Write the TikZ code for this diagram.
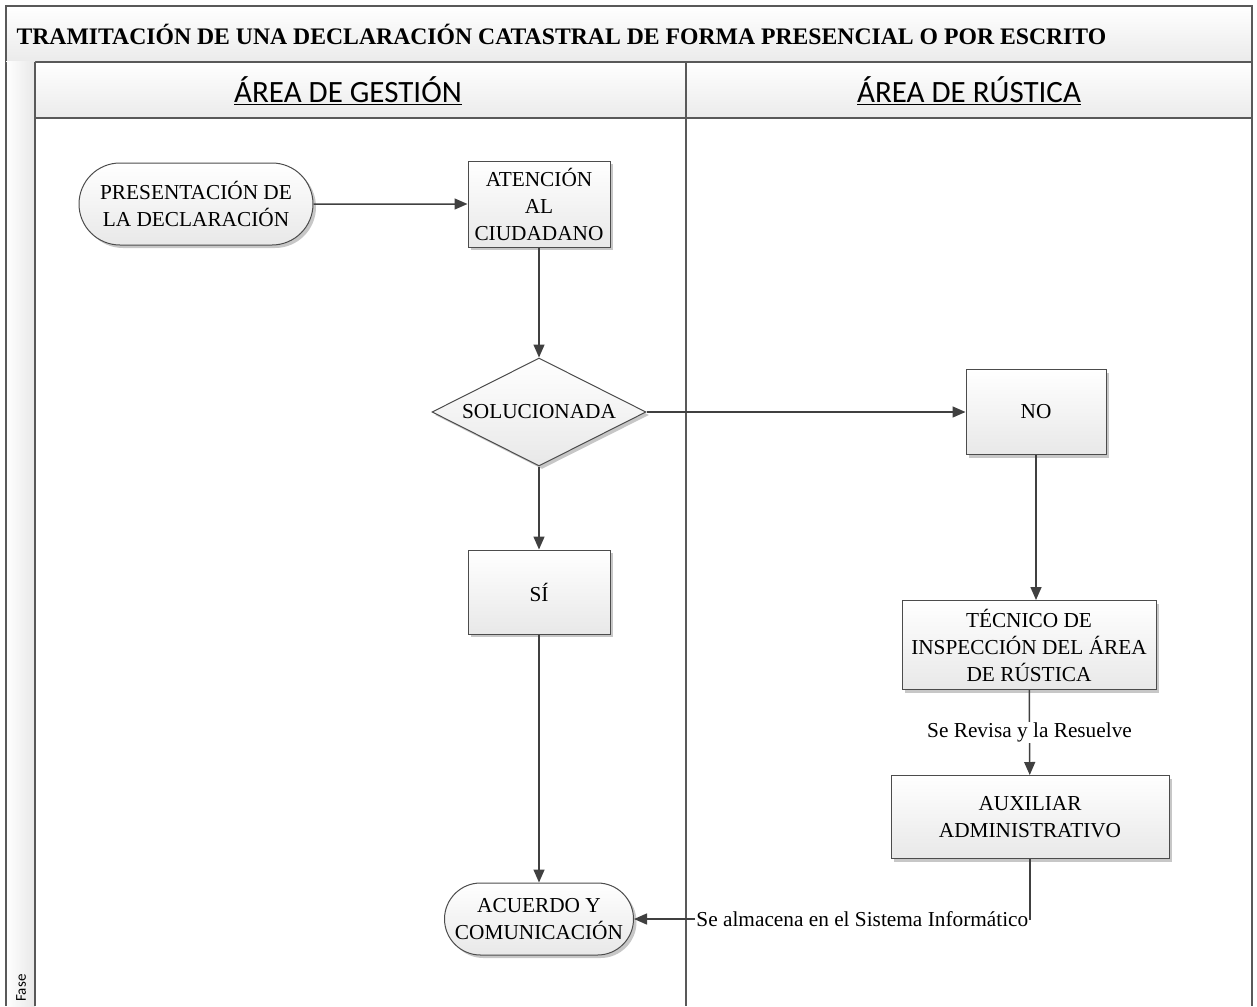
\documentclass[tikz,border=0pt]{standalone}
\usepackage{fontspec}
\setmainfont{Liberation Serif}
\newfontfamily\lanefont{Carlito}
\usetikzlibrary{positioning,arrows.meta,shapes,shadows}

\begin{document}
\begin{tikzpicture}[
  x=1pt, y=-1pt,
  font=\fontsize{21.3}{27}\selectfont,
  frm/.style={draw=black!65, line width=1.3pt},
  band/.style={frm, top color=white, bottom color=black!8},
  proc/.style={rectangle, draw=black!70, line width=1pt, top color=white, bottom color=black!9,
               drop shadow={shadow xshift=3pt, shadow yshift=-3pt, fill=black!22, opacity=1},
               align=center, inner sep=2pt},
  term/.style={proc, rounded rectangle},
  dec/.style={proc, diamond, aspect=2, inner sep=0pt},
  flow/.style={-{Triangle[length=13pt,width=11pt]}, draw=black!75, line width=1.5pt},
  lbl/.style={fill=white, inner sep=1pt}
]
\useasboundingbox (0,0) rectangle (1257,1006);

% marco
\draw[band] (6,6) rectangle (1252,62);
\draw[band] (35,62) rectangle (1252,118);
\shade[left color=white, right color=black!9] (6,62) rectangle (35,1006);
\draw[frm] (6,62) -- (6,1006);
\draw[frm] (35,62) -- (35,1006);
\draw[frm] (1252,62) -- (1252,1006);
\draw[frm] (686,62) -- (686,1006);
\draw[frm] (35,118) -- (1252,118);

\node[anchor=west, font=\fontsize{23.7}{26}\selectfont\bfseries] (tit) at (13,34)
  {TRAMITACIÓN DE UNA DECLARACIÓN CATASTRAL DE FORMA PRESENCIAL O POR ESCRITO};
\node[font=\lanefont\fontsize{31}{33}\selectfont] (gest) at (348,91) {\underline{ÁREA DE GESTIÓN}};
\node[font=\lanefont\fontsize{31}{33}\selectfont] (rust) at (969,91) {\underline{ÁREA DE RÚSTICA}};
\node[font=\lanefont\fontsize{15}{16}\selectfont, rotate=90] (fase) at (21,988) {Fase};

% nodos
\node[term, minimum width=238pt, minimum height=82pt] (pres) at (196,204)
  {PRESENTACIÓN DE\\LA DECLARACIÓN};
\node[proc, minimum width=142pt, minimum height=86pt] (aten) at (539,204)
  {ATENCIÓN\\AL\\CIUDADANO};
\node[dec, minimum width=214pt, minimum height=108pt] (sol) at (539,412) {SOLUCIONADA};
\node[proc, minimum width=140pt, minimum height=85pt] (no) at (1036,412) {NO};
\node[proc, minimum width=142pt, minimum height=84pt] (si) at (539,592) {SÍ};
\node[proc, minimum width=254pt, minimum height=89pt] (tec) at (1029,645)
  {TÉCNICO DE\\INSPECCIÓN DEL ÁREA\\DE RÚSTICA};
\node[proc, minimum width=278pt, minimum height=83pt] (aux) at (1030,817)
  {AUXILIAR\\ADMINISTRATIVO};
\node[term, minimum width=193pt, minimum height=72pt] (acu) at (539,919)
  {ACUERDO Y\\COMUNICACIÓN};
\coordinate (esq) at (aux.south |- acu.east);

% conectores
\draw[flow] (pres) -- (aten);
\draw[flow] (aten) -- (sol);
\draw[flow] (sol) -- (no);
\draw[flow] (sol) -- (si);
\draw[flow] (no.south) -- (no.south |- tec.north);
\draw[flow] (si) -- (acu);
\draw[flow] (tec) -- node[lbl] {Se Revisa y la Resuelve} (aux);
\draw[flow] (aux.south) -- (esq) -- node[lbl, pos=0, anchor=east] {Se almacena en el Sistema Informático} (acu.east);
\end{tikzpicture}
\end{document}
